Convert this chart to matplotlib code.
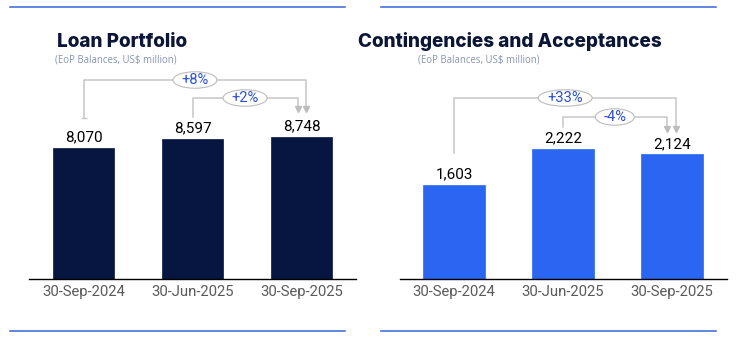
import matplotlib
matplotlib.use("Agg")
import matplotlib.pyplot as plt
import matplotlib.transforms as mtransforms
from matplotlib.patches import Ellipse
from matplotlib.lines import Line2D

# data
dates = ["30-Sep-2024", "30-Jun-2025", "30-Sep-2025"]
loans = [8070, 8597, 8748]
contingencies = [1603, 2222, 2124]

W, H = 748, 340
fig = plt.figure(figsize=(W / 100, H / 100), dpi=100)

navy = "#061640"
blue = "#2a66f2"
rule_blue = "#3366d6"
gray_line = "#c6c6c6"
pct_blue = "#2c4fd4"


def fy(py):
    # pixel from top -> figure fraction
    return 1 - py / H


def add_panel(left_px, values, color, ymax, title, title_x, sub_x, links):
    ax = fig.add_axes([left_px / W, fy(279), 327 / W, 259 / H])
    x = range(len(values))
    ax.bar(x, values, width=0.56, color=color, edgecolor=color, linewidth=0.5)
    ax.set_xlim(-0.5, 2.5)
    ax.set_ylim(0, ymax)
    for s in ["top", "right", "left"]:
        ax.spines[s].set_visible(False)
    ax.spines["bottom"].set_color("black")
    ax.spines["bottom"].set_linewidth(1.0)
    ax.set_yticks([])
    ax.set_xticks(list(x))
    ax.set_xticklabels(dates, fontsize=10.7, family="Roboto", color="#5a5a5a")
    ax.tick_params(axis="x", length=0, pad=4.5)
    for i, v in enumerate(values):
        ax.annotate(f"{v:,}", (i, v), xytext=(0, 4.5), textcoords="offset points",
                    ha="center", va="baseline", fontsize=11, family="Roboto",
                    color="black")

    fig.text(title_x / W, fy(47), title, fontsize=13.6, family="Inter",
             fontweight="heavy", color="#0b1537", va="baseline")
    fig.text(sub_x / W, fy(59.5), "(EoP Balances, US$ million)", fontsize=6.9,
             family="Open Sans", color="#8595b2", va="center")

    tr = mtransforms.blended_transform_factory(ax.transData, fig.transFigure)
    for (i0, i1, dx, y0, ylev, ytip, ew, tick) in links:
        pct = (values[i1] / values[i0] - 1) * 100
        x1 = i1 + dx
        xs = [i0, i0, x1, x1]
        ys = [fy(y0), fy(ylev), fy(ylev), fy(ytip - 5)]
        ax.add_line(Line2D(xs, ys, color=gray_line, lw=1.1, transform=tr,
                           clip_on=False, zorder=3))
        ax.plot([x1], [fy(ytip - 3)], marker="v", markersize=5,
                color="#bdbdbd", transform=tr, clip_on=False, zorder=4)
        if tick:
            ax.plot([i0], [fy(y0)], marker="_", markersize=5, color=gray_line,
                    transform=tr, clip_on=False)
        xc = (i0 + x1) / 2
        ax.add_patch(Ellipse((xc, fy(ylev)), ew / 109, 16.5 / H, facecolor="white",
                             edgecolor="#bcbcbc", lw=0.8, transform=tr,
                             clip_on=False, zorder=5))
        ax.text(xc, fy(ylev), f"{pct:+.0f}%", transform=tr, ha="center",
                va="center", fontsize=10.5, family="Roboto", color=pct_blue,
                zorder=6, clip_on=False)
    return ax


add_panel(29, loans, navy, 15900, "Loan Portfolio", 57, 55,
          [(0, 2, 0.045, 118, 80, 112, 44, True),
           (1, 2, -0.035, 117, 98, 112, 44, False)])
add_panel(399.5, contingencies, blue, 4412, "Contingencies and Acceptances", 358, 418,
          [(0, 2, 0.04, 153, 98, 132, 54, False),
           (1, 2, -0.05, 127, 117, 132, 39, False)])

# horizontal rules
for (x0, x1) in [(10, 345), (381, 716)]:
    for y in [7, 331]:
        fig.add_artist(Line2D([x0 / W, x1 / W], [fy(y), fy(y)], color=rule_blue,
                              lw=1.1, transform=fig.transFigure))

fig.savefig("out.png", dpi=100)
